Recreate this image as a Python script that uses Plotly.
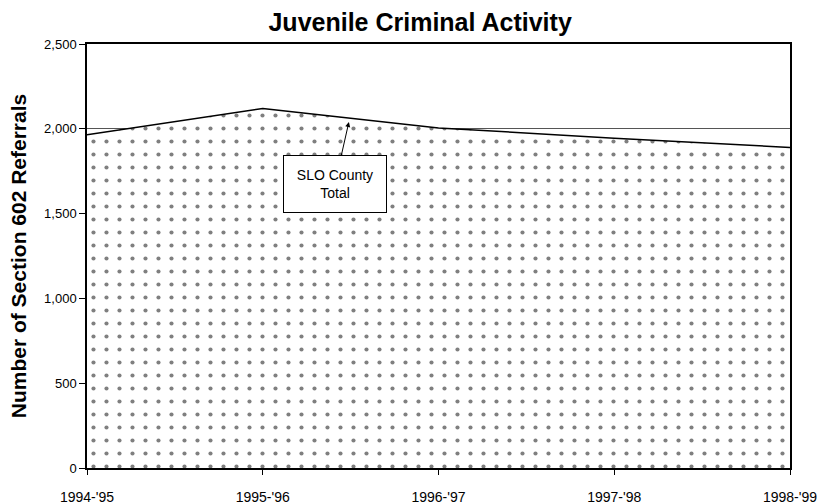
import plotly.graph_objects as go

years = ["1994-'95", "1995-'96", "1996-'97", "1997-'98", "1998-'99"]
referrals = [1965, 2120, 2005, 1945, 1890]
y_ticks = [0, 500, 1000, 1500, 2000, 2500]

fig = go.Figure()
fig.add_trace(go.Scatter(
    x=years, y=referrals, mode="lines",
    line=dict(color="black", width=1.5),
    fill="tozeroy",
    fillcolor="white",
    fillpattern=dict(shape=".", fgcolor="#000000", bgcolor="white", size=13, solidity=0.08),
    hoverinfo="skip", showlegend=False,
))

fig.add_annotation(
    x=1.49, y=2040, xref="x", yref="y",
    text="SLO County<br>Total",
    showarrow=True, arrowhead=2, arrowsize=1, arrowwidth=1, arrowcolor="black",
    ax=-14, ay=62, standoff=0,
    bordercolor="black", borderwidth=1, bgcolor="white",
    width=100, height=54,
    font=dict(family="Liberation Sans, Arial", size=14, color="black"),
)

fig.update_layout(
    width=819, height=504,
    margin=dict(l=87, r=29, t=44, b=36),
    paper_bgcolor="white", plot_bgcolor="white",
    title=dict(text="<b>Juvenile Criminal Activity</b>", x=0.513, xanchor="center", y=0.956, yanchor="middle",
               font=dict(family="Liberation Sans, Arial", size=25, color="black")),
    xaxis=dict(type="category", range=[0, 4], showgrid=False, automargin=False,
               showline=True, linecolor="black", linewidth=2, mirror=True,
               ticks="outside", ticklen=5, tickcolor="black",
               ticklabelstandoff=10,
               tickfont=dict(family="Liberation Sans, Arial", size=14, color="black")),
    yaxis=dict(range=[0, 2500], tickvals=y_ticks, tickformat=",", automargin=False,
               showgrid=True, gridcolor="#555555", gridwidth=1,
               showline=True, linecolor="black", linewidth=1.5, mirror=True,
               ticks="outside", ticklen=6, tickcolor="black",
               tickfont=dict(family="Liberation Sans, Arial", size=13, color="black"),
               title=dict(text="<b>Number of Section 602 Referrals</b>", standoff=12,
                          font=dict(family="Liberation Sans, Arial", size=21, color="black"))),
)

fig.write_html("out.html", config={"displayModeBar": False},
               post_script="document.body.style.margin='0px';")
